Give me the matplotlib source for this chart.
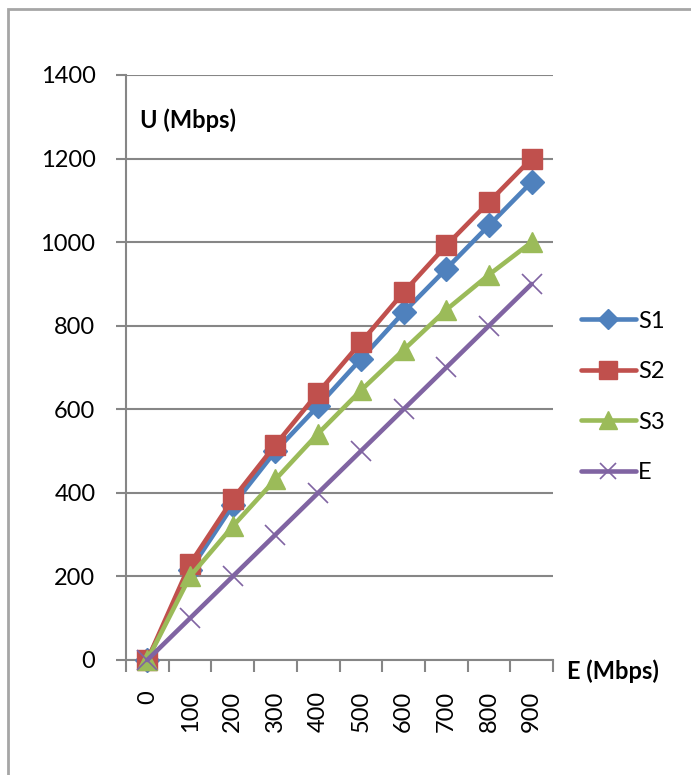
import matplotlib
matplotlib.use("Agg")
import matplotlib.pyplot as plt
from matplotlib.patches import Rectangle

plt.rcParams['font.family'] = ['Lato', 'DejaVu Sans']

# Offered load E (Mbps) categories and measured throughput U (Mbps)
categories = ["0", "100", "200", "300", "400", "500", "600", "700", "800", "900"]
s1 = [0, 215, 370, 500, 608, 720, 832, 936, 1040, 1144]
s2 = [0, 230, 385, 515, 640, 760, 880, 992, 1096, 1200]
s3 = [0, 200, 320, 432, 542, 645, 742, 838, 922, 1000]
e = [0, 100, 200, 300, 400, 500, 600, 700, 800, 900]
series_names = ["S1", "S2", "S3", "E"]
y_ticks = [0, 200, 400, 600, 800, 1000, 1200, 1400]

W, H = 691, 775
fig = plt.figure(figsize=(W / 100, H / 100), dpi=100)
fig.patch.set_facecolor("white")

# chart frame, running off the right and bottom edges
fig.patches.append(Rectangle((8 / W, -0.05), 1.1, 1 - 9 / H + 0.05,
                             transform=fig.transFigure, fill=False,
                             edgecolor="#A6A6A6", linewidth=2))

ax = fig.add_axes([126 / W, 1 - 660 / H, (553 - 126) / W, (660 - 75) / H])
ax.set_facecolor("none")

x = list(range(len(categories)))
styles = [
    dict(color="#4F81BD", marker="D", markersize=12, mew=1),
    dict(color="#C0504D", marker="s", markersize=15, mew=1),
    dict(color="#9BBB59", marker="^", markersize=15, mew=1),
    dict(color="#8064A2", marker="x", markersize=14, mew=1.2),
]
handles = []
for vals, name, st in zip([s1, s2, s3, e], series_names, styles):
    ln, = ax.plot(x, vals, color=st["color"], linewidth=3.3, marker=st["marker"],
                  markersize=st["markersize"], markerfacecolor=st["color"],
                  markeredgecolor=st["color"], markeredgewidth=st["mew"],
                  solid_capstyle="round", solid_joinstyle="round",
                  clip_on=False, zorder=3)
    handles.append(ln)

ax.set_xlim(-0.5, len(categories) - 0.5)
ax.set_ylim(0, 1400)

grid_col = "#868686"
ax.set_yticks(y_ticks)
ax.set_yticklabels([str(v) for v in y_ticks])
ax.yaxis.grid(True, color=grid_col, linewidth=1.5)
ax.set_axisbelow(True)

# category axis: ticks on boundaries, labels centred on categories
ax.set_xticks([i - 0.5 for i in range(len(categories) + 1)])
ax.set_xticklabels([])
ax.set_xticks(x, minor=True)
ax.set_xticklabels(categories, minor=True, rotation=90, va="top")
ax.tick_params(axis="x", which="major", length=8.5, width=1.5, color=grid_col,
               direction="out")
ax.tick_params(axis="x", which="minor", length=0, pad=22, labelsize=17)
ax.tick_params(axis="y", length=7, width=1.5, color=grid_col, pad=15,
               labelsize=17)

for side in ["top", "right"]:
    ax.spines[side].set_visible(False)
for side in ["left", "bottom"]:
    ax.spines[side].set_color(grid_col)
    ax.spines[side].set_linewidth(1.5)

fig.text(140 / W, 1 - 120 / H, "U (Mbps)", fontsize=17, fontweight="bold",
         va="center", ha="left")
fig.text(567 / W, 1 - 671 / H, "E (Mbps)", fontsize=17, fontweight="bold",
         va="center", ha="left")

leg = fig.legend(handles, series_names, loc="center left",
                 bbox_to_anchor=(560 / W, 1 - 397 / H), frameon=False,
                 fontsize=17, handlelength=2.3, handletextpad=0.1,
                 labelspacing=1.25, markerscale=0.85)

fig.savefig("out.png", dpi=100)
